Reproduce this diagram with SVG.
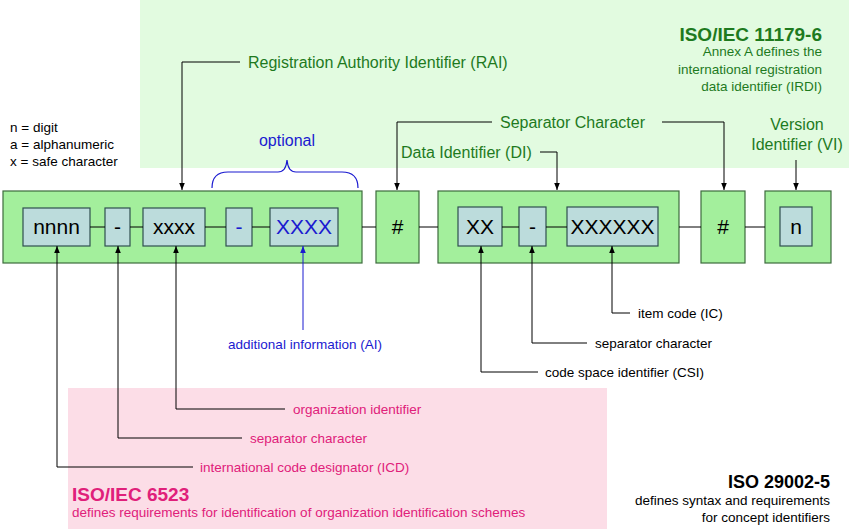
<svg xmlns="http://www.w3.org/2000/svg" width="849" height="529" viewBox="0 0 849 529">
<defs>
<marker id="a" viewBox="0 0 10 10" refX="10" refY="5" markerWidth="7" markerHeight="7" orient="auto"><path d="M0,1 L10,5 L0,9 z" fill="#000"/></marker>
<marker id="ab" viewBox="0 0 10 10" refX="10" refY="5" markerWidth="7" markerHeight="7" orient="auto"><path d="M0,1 L10,5 L0,9 z" fill="#1a1ad0"/></marker>
<style>
text{font-family:"Liberation Sans",Arial,sans-serif}
.ob{fill:#a3ef9c;stroke:#3d6b3d;stroke-width:1.2}
.ib{fill:#bcdcdc;stroke:#2f4f4f;stroke-width:1.2}
.big{font-size:21px;text-anchor:middle;fill:#000}
.g{fill:#1e7a1e;font-size:16px}
.k{fill:#000;font-size:13.5px}
.p{fill:#e0207a;font-size:13.5px}
.ln{stroke:#000;stroke-width:1;fill:none}
</style>
</defs>
<rect x="140" y="0" width="709" height="168" fill="#e2fbe0"/>
<rect x="68" y="388" width="539" height="141" fill="#fcdde7"/>
<g id="rai"><rect class="ob" x="3" y="191" width="359" height="72"/>
<rect class="ib" x="23" y="208" width="67" height="38"/><text class="big" x="56.5" y="234">nnnn</text>
<rect class="ib" x="105" y="208" width="25" height="38"/><text class="big" x="117.5" y="234">-</text>
<rect class="ib" x="143" y="208" width="62" height="38"/><text class="big" x="174" y="234">xxxx</text>
<rect class="ib" x="226" y="208" width="26" height="38"/><text class="big" x="239" y="234" style="fill:#1a1ad0">-</text>
<rect class="ib" x="270" y="208" width="68" height="38"/><text class="big" x="304" y="234" style="fill:#1a1ad0">XXXX</text></g>
<g id="sep1"><rect class="ob" x="376" y="191" width="43" height="72"/><text class="big" x="397.5" y="234">#</text></g>
<g id="di"><rect class="ob" x="438" y="191" width="241" height="72"/>
<rect class="ib" x="458" y="207" width="44" height="39"/><text class="big" x="480" y="234">XX</text>
<rect class="ib" x="519" y="207" width="27" height="39"/><text class="big" x="532.5" y="234">-</text>
<rect class="ib" x="567" y="207" width="91" height="39"/><text class="big" x="612.5" y="234">XXXXXX</text></g>
<g id="sep2"><rect class="ob" x="701" y="191" width="44" height="72"/><text class="big" x="723" y="234">#</text></g>
<g id="vi"><rect class="ob" x="765" y="191" width="66" height="72"/>
<rect class="ib" x="780" y="207" width="32" height="39"/><text class="big" x="796" y="234">n</text></g>
<g id="connectors">
<path class="ln" d="M90,227H105M130,227H143M205,227H226M252,227H270M362,227H376M419,227H438M502,227H519M546,227H567M679,227H701M745,227H765"/>
<path class="ln" d="M240,62H182V190" marker-end="url(#a)"/>
<path class="ln" d="M492,122H397V190" marker-end="url(#a)"/>
<path class="ln" d="M662,122H724V190" marker-end="url(#a)"/>
<path class="ln" d="M540,152H557V190" marker-end="url(#a)"/>
<path class="ln" d="M796,160V190" marker-end="url(#a)"/>
<path d="M212,188Q212,172 228,172H278Q286,172 287,160Q288,172 296,172H342Q358,172 358,188" stroke="#1a1ad0" fill="none" stroke-width="1.2"/>
<path d="M303,330V246" stroke="#1a1ad0" fill="none" marker-end="url(#ab)"/>
<path class="ln" d="M630,313H612V246" marker-end="url(#a)"/>
<path class="ln" d="M587,343H532V246" marker-end="url(#a)"/>
<path class="ln" d="M538,372H481V246" marker-end="url(#a)"/>
<path class="ln" d="M285,409H176V246" marker-end="url(#a)"/>
<path class="ln" d="M242,438H118V246" marker-end="url(#a)"/>
<path class="ln" d="M193,467H57V246" marker-end="url(#a)"/>
</g>
<g id="labels">
<text class="g" x="248" y="68">Registration Authority Identifier (RAI)</text>
<text class="g" x="500" y="128">Separator Character</text>
<text class="g" x="401" y="158">Data Identifier (DI)</text>
<text class="g" x="797" y="130" text-anchor="middle">Version</text>
<text class="g" x="797" y="150" text-anchor="middle">Identifier (VI)</text>
<text x="287" y="146" text-anchor="middle" font-size="16" fill="#1a1ad0">optional</text>
<text x="822" y="41" text-anchor="end" font-size="19" font-weight="bold" fill="#1e7a1e">ISO/IEC 11179-6</text>
<g fill="#1e7a1e" font-size="13.5" text-anchor="end"><text x="822" y="56">Annex A defines the</text><text x="822" y="74">international registration</text><text x="822" y="91">data identifier (IRDI)</text></g>
<text class="k" x="10" y="132">n = digit</text><text class="k" x="10" y="149">a = alphanumeric</text><text class="k" x="10" y="166">x = safe character</text>
<text x="305" y="349" text-anchor="middle" font-size="13.5" fill="#1a1ad0">additional information (AI)</text>
<text class="k" x="638" y="318">item code (IC)</text>
<text class="k" x="595" y="348">separator character</text>
<text class="k" x="545" y="377">code space identifier (CSI)</text>
<text class="p" x="293" y="414">organization identifier</text>
<text class="p" x="250" y="443">separator character</text>
<text class="p" x="200" y="472">international code designator (ICD)</text>
<text x="72" y="501" font-size="19" font-weight="bold" fill="#e0207a">ISO/IEC 6523</text>
<text class="p" x="72" y="517">defines requirements for identification of organization identification schemes</text>
<text x="830" y="488" text-anchor="end" font-size="18" font-weight="bold" fill="#000">ISO 29002-5</text>
<text class="k" x="830" y="505" text-anchor="end">defines syntax and requirements</text>
<text class="k" x="830" y="522" text-anchor="end">for concept identifiers</text>
</g>
</svg>
